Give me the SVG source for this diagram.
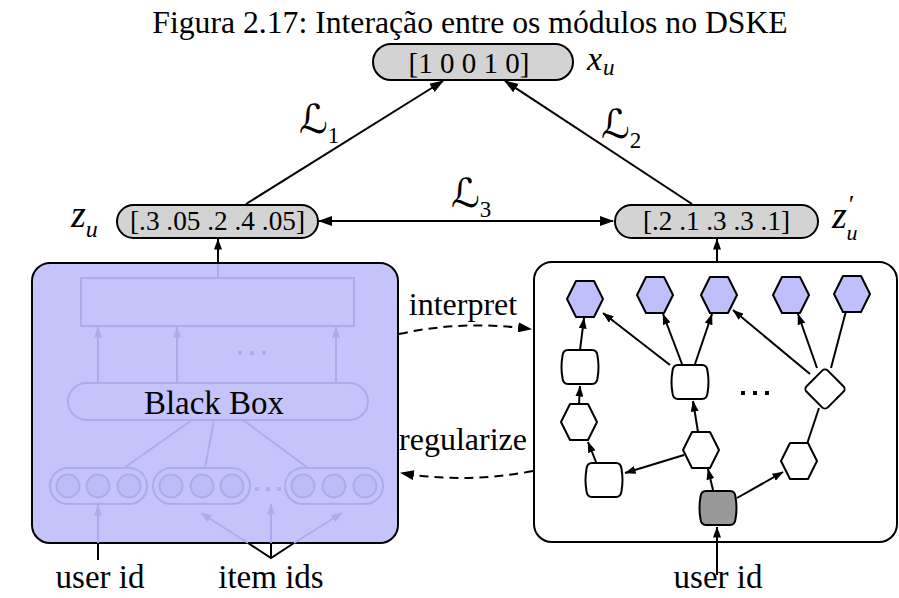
<svg xmlns="http://www.w3.org/2000/svg" width="899" height="598" viewBox="0 0 899 598">
<style>
.t{font-family:"Liberation Serif","Times New Roman",serif;fill:#000}
.mi{font-family:"Liberation Serif","Times New Roman",serif;font-style:italic;fill:#000}
.sc{font-family:"DejaVu Serif","DejaVu Sans",serif;fill:#000}
.pill{fill:#d3d3d3;stroke:#000;stroke-width:2}
.ln{fill:none;stroke:#000;stroke-width:2}
.dash{fill:none;stroke:#000;stroke-width:2;stroke-dasharray:9 6}
.fd{fill:none;stroke:#acacea;stroke-width:2}
.fdc{fill:#bcbcf6;stroke:#acacea;stroke-width:2}
.hexp{fill:#bfbffb;stroke:#000;stroke-width:2;stroke-linejoin:round}
.w{fill:#fff;stroke:#000;stroke-width:2;stroke-linejoin:round}
.g{fill:#999;stroke:#000;stroke-width:2;stroke-linejoin:round}
</style>
<defs>
<marker id="ab" viewBox="0 0 14 10" markerWidth="14" markerHeight="10" refX="13" refY="5" orient="auto-start-reverse" markerUnits="userSpaceOnUse"><path d="M0,0L14,5L0,10z" fill="#000"/></marker>
<marker id="as" viewBox="0 0 11 8" markerWidth="11" markerHeight="8" refX="10.5" refY="4" orient="auto" markerUnits="userSpaceOnUse"><path d="M0,0L11,4L0,8z" fill="#000"/></marker>
<marker id="af" viewBox="0 0 11 8" markerWidth="11" markerHeight="8" refX="10.5" refY="4" orient="auto" markerUnits="userSpaceOnUse"><path d="M0,0L11,4L0,8z" fill="#acacea"/></marker>
<polygon id="hex" points="-18,0 -9,-18 9,-18 18,0 9,18 -9,18"/>
<path id="bar" d="M-12,-17 L12,-17 Q17,-17 17.5,-11 Q19.5,0 17.5,11 Q17,17 12,17 L-12,17 Q-17,17 -17.5,11 Q-19.5,0 -17.5,-11 Q-17,-17 -12,-17 Z"/>
<rect id="dia" x="-15" y="-15" width="30" height="30" rx="4" transform="rotate(45)"/>
</defs>

<text class="t" x="470" y="33" font-size="31.7" text-anchor="middle">Figura 2.17: Interação entre os módulos no DSKE</text>

<g id="connectors">
<line class="ln" x1="246" y1="204" x2="443" y2="81" marker-end="url(#ab)"/>
<line class="ln" x1="692" y1="204" x2="505" y2="81" marker-end="url(#ab)"/>
<line class="ln" x1="319" y1="221" x2="613" y2="221" marker-start="url(#ab)" marker-end="url(#ab)"/>
<line class="ln" x1="218" y1="263" x2="218" y2="239" marker-end="url(#as)"/>
<line class="ln" x1="717" y1="262" x2="717" y2="239" marker-end="url(#as)"/>
<path class="dash" d="M399,334 Q462,320 531,329" marker-end="url(#ab)"/>
<path class="dash" d="M533,471 Q466,484 401,473" marker-end="url(#ab)"/>
</g>

<g id="xu">
<rect class="pill" x="373" y="44" width="200" height="36" rx="18"/>
<text class="t" x="469" y="73" font-size="29" text-anchor="middle">[1 0 0 1 0]</text>
<text class="mi" x="587" y="70" font-size="34">x<tspan font-size="23" dy="5" dx="1">u</tspan></text>
</g>
<g id="L1"><text class="sc" x="299" y="133" font-size="40">ℒ<tspan class="t" font-size="23" dy="10">1</tspan></text></g>
<g id="L2"><text class="sc" x="601" y="138" font-size="40">ℒ<tspan class="t" font-size="23" dy="10">2</tspan></text></g>
<g id="L3"><text class="sc" x="451" y="207" font-size="40">ℒ<tspan class="t" font-size="23" dy="10">3</tspan></text></g>

<g id="zu">
<rect class="pill" x="117" y="205" width="201" height="33" rx="16.5"/>
<text class="t" x="217.5" y="230" font-size="28" text-anchor="middle" textLength="175" lengthAdjust="spacingAndGlyphs">[.3 .05 .2 .4 .05]</text>
<text class="mi" x="71" y="227" font-size="38">z<tspan font-size="24" dy="10">u</tspan></text>
</g>
<g id="zu2">
<rect class="pill" x="615" y="205" width="203" height="33" rx="16.5"/>
<text class="t" x="716.5" y="230" font-size="28" text-anchor="middle" textLength="147" lengthAdjust="spacingAndGlyphs">[.2 .1 .3 .3 .1]</text>
<text class="mi" x="832" y="228" font-size="38">z<tspan font-size="26" dx="2" dy="-15" font-style="normal">′</tspan><tspan font-size="22" dx="-8" dy="27">u</tspan></text>
</g>

<g id="blackbox">
<rect x="32" y="263" width="366" height="280" rx="18" fill="#c4c4fb" stroke="#000" stroke-width="2"/>
<line class="fd" x1="218" y1="264" x2="218" y2="278"/>
<rect class="fd" x="81" y="278" width="273" height="48"/>
<line class="fd" x1="98" y1="383" x2="98" y2="327" marker-end="url(#af)"/>
<line class="fd" x1="177" y1="383" x2="177" y2="327" marker-end="url(#af)"/>
<line class="fd" x1="336" y1="383" x2="336" y2="327" marker-end="url(#af)"/>
<g fill="#acacea"><rect x="238" y="351" width="4" height="4"/><rect x="250" y="351" width="4" height="4"/><rect x="262" y="351" width="4" height="4"/></g>
<rect class="fd" x="68" y="383" width="300" height="37" rx="18.5"/>
<text class="t" x="214" y="414" font-size="33" text-anchor="middle">Black Box</text>
<line class="fd" x1="192" y1="420" x2="124" y2="468"/>
<line class="fd" x1="214" y1="420" x2="205" y2="468"/>
<line class="fd" x1="243" y1="420" x2="308" y2="468"/>
<rect class="fd" x="50" y="468" width="97" height="36" rx="18"/>
<rect class="fd" x="153" y="468" width="97" height="36" rx="18"/>
<rect class="fd" x="285" y="468" width="98" height="36" rx="18"/>
<circle class="fdc" cx="68" cy="486" r="11.5"/><circle class="fdc" cx="98" cy="486" r="11.5"/><circle class="fdc" cx="129" cy="486" r="11.5"/>
<circle class="fdc" cx="171" cy="486" r="11.5"/><circle class="fdc" cx="202" cy="486" r="11.5"/><circle class="fdc" cx="232" cy="486" r="11.5"/>
<circle class="fdc" cx="303" cy="486" r="11.5"/><circle class="fdc" cx="334" cy="486" r="11.5"/><circle class="fdc" cx="365" cy="486" r="11.5"/>
<g fill="#acacea"><rect x="255" y="487" width="4" height="4"/><rect x="266" y="487" width="4" height="4"/><rect x="277" y="487" width="4" height="4"/></g>
<line class="fd" x1="98" y1="543" x2="98" y2="505" marker-end="url(#af)"/>
<line class="fd" x1="248" y1="543" x2="201" y2="513" marker-end="url(#af)"/>
<line class="fd" x1="271" y1="543" x2="271" y2="504" marker-end="url(#af)"/>
<line class="fd" x1="294" y1="543" x2="342" y2="513" marker-end="url(#af)"/>
<line class="ln" x1="98" y1="560" x2="98" y2="543"/>
<polyline class="ln" points="248,543 271,558 294,543"/>
<line class="ln" x1="271" y1="558" x2="271" y2="543"/>
</g>

<g id="interpret"><text class="t" x="463" y="315" font-size="32" text-anchor="middle">interpret</text></g>
<g id="regularize"><text class="t" x="463" y="450" font-size="32" text-anchor="middle">regularize</text></g>

<g id="graph">
<rect x="534" y="262" width="363" height="280" rx="18" fill="#fff" stroke="#000" stroke-width="2"/>
<g id="graph-edges">
<line class="ln" x1="580" y1="350" x2="584" y2="318" marker-end="url(#as)"/>
<line class="ln" x1="579" y1="404" x2="580" y2="386" marker-end="url(#as)"/>
<line class="ln" x1="596" y1="462" x2="588" y2="442" marker-end="url(#as)"/>
<line class="ln" x1="684" y1="455" x2="625" y2="473" marker-end="url(#as)"/>
<line class="ln" x1="713" y1="490" x2="708" y2="469" marker-end="url(#as)"/>
<line class="ln" x1="737" y1="498" x2="783" y2="472" marker-end="url(#as)"/>
<line class="ln" x1="698" y1="432" x2="693" y2="401" marker-end="url(#as)"/>
<line class="ln" x1="670" y1="365" x2="603" y2="313" marker-end="url(#as)"/>
<line class="ln" x1="682" y1="364" x2="663" y2="314" marker-end="url(#as)"/>
<line class="ln" x1="695" y1="364" x2="712" y2="314" marker-end="url(#as)"/>
<line class="ln" x1="810" y1="374" x2="733" y2="310" marker-end="url(#as)"/>
<line class="ln" x1="817" y1="368" x2="798" y2="314" marker-end="url(#as)"/>
<line class="ln" x1="846" y1="311" x2="831" y2="368"/>
<line class="ln" x1="807" y1="444" x2="819" y2="408"/>
</g>
<g id="p1"><use href="#hex" x="585" y="299" class="hexp"/></g>
<g id="p2"><use href="#hex" x="655" y="295" class="hexp"/></g>
<g id="p3"><use href="#hex" x="719" y="295" class="hexp"/></g>
<g id="p4"><use href="#hex" x="791" y="295" class="hexp"/></g>
<g id="p5"><use href="#hex" x="852" y="294" class="hexp"/></g>
<g id="nA"><use href="#bar" x="580" y="367" class="w"/></g>
<g id="nB"><use href="#bar" x="690" y="382" class="w"/></g>
<g id="nC"><use href="#bar" x="604" y="480" class="w"/></g>
<g id="nD"><use href="#bar" x="718" y="508" class="g"/></g>
<g id="nE"><use href="#hex" x="579" y="422" class="w"/></g>
<g id="nF"><use href="#hex" x="701" y="450" class="w"/></g>
<g id="nG"><use href="#hex" x="799" y="461" class="w"/></g>
<g id="nH"><use href="#dia" x="0" y="0" transform="translate(825,389)" class="w"/></g>
<g fill="#000"><rect x="741" y="391" width="4" height="4"/><rect x="753" y="391" width="4" height="4"/><rect x="765" y="391" width="4" height="4"/></g>
<line class="ln" x1="717" y1="575" x2="717" y2="527" marker-end="url(#as)"/>
</g>

<g id="labels">
<text class="t" x="100" y="588" font-size="33" text-anchor="middle">user id</text>
<text class="t" x="271" y="588" font-size="33" text-anchor="middle">item ids</text>
<text class="t" x="718" y="588" font-size="33" text-anchor="middle">user id</text>
</g>
</svg>
